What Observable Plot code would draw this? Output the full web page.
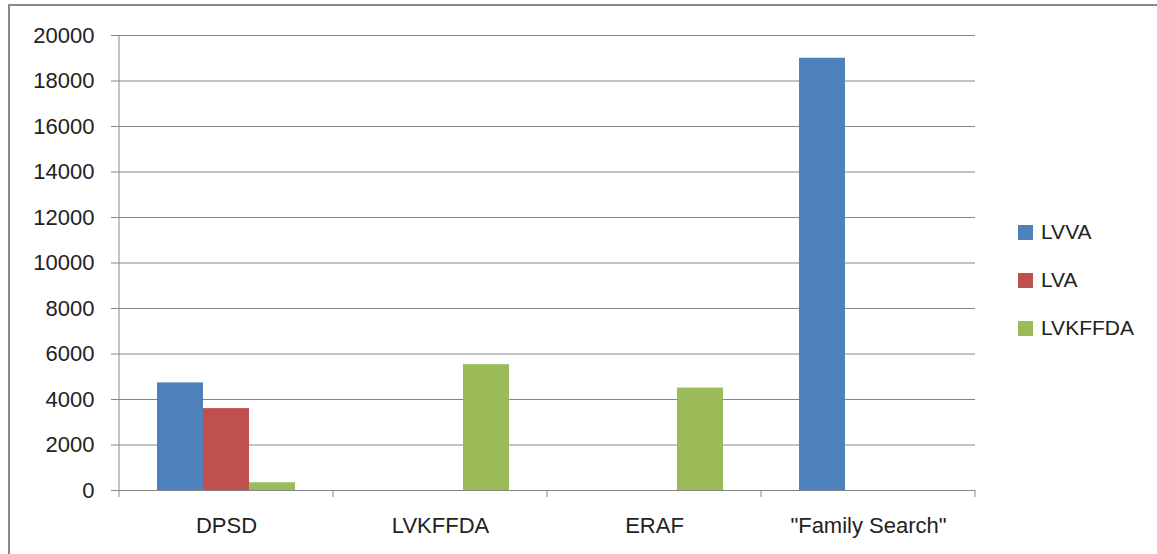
<!DOCTYPE html>
<html>
<head>
<meta charset="utf-8">
<script src="https://cdn.jsdelivr.net/npm/d3@7"></script>
<script src="https://cdn.jsdelivr.net/npm/@observablehq/plot@0.6"></script>
<style>
  html, body { margin: 0; padding: 0; background: #fff; overflow: hidden; }
  #wrap { position: relative; width: 1157px; height: 554px; overflow: hidden; }
  #border { position: absolute; left: 8px; top: 4px; width: 2000px; height: 2000px; border: 2px solid #8a8a8a; box-sizing: border-box; }
  #chart { position: absolute; left: 0; top: 0; }
  #legend { position: absolute; left: 1018px; top: 0; font-family: "Liberation Sans", Arial, sans-serif; font-size: 21px; color: #222; }
  .item { position: absolute; left: 0; white-space: nowrap; display: flex; align-items: center; height: 24px; }
  .sw { width: 15px; height: 15px; margin-right: 8px; }
</style>
</head>
<body>
<div id="wrap">
  <div id="border"></div>
  <div id="chart"></div>
  <div id="legend"></div>
</div>
<script>
const categories = ["DPSD", "LVKFFDA", "ERAF", "\"Family Search\""];
const seriesNames = ["LVVA", "LVA", "LVKFFDA"];
const seriesColors = ["#4F81BD", "#C0504D", "#9BBB59"];
const lvvaValues = [4730, 0, 0, 19000];
const lvaValues = [3600, 0, 0, 0];
const lvkffdaValues = [340, 5530, 4500, 0];
const yTicks = [0, 2000, 4000, 6000, 8000, 10000, 12000, 14000, 16000, 18000, 20000];

const seriesValues = [lvvaValues, lvaValues, lvkffdaValues];
const data = [];
categories.forEach((c, i) => {
  seriesNames.forEach((s, j) => {
    data.push({category: c, series: s, value: seriesValues[j][i]});
  });
});

const gray = "#868686";
const chart = Plot.plot({
  width: 1157,
  height: 554,
  marginLeft: 119,
  marginRight: 182,
  marginTop: 35,
  marginBottom: 64,
  style: {fontFamily: "'Liberation Sans', Arial, sans-serif", fontSize: "22px", color: "#222", background: "transparent", overflow: "visible"},
  fx: {domain: categories, padding: 0, label: null, axis: null},
  x: {domain: seriesNames, paddingInner: 0, paddingOuter: 0.777, axis: null},
  y: {domain: [0, 20000], label: null, axis: null},
  color: {domain: seriesNames, range: seriesColors},
  marks: [
    Plot.ruleY(yTicks, {stroke: gray, strokeWidth: 1}),
    Plot.barY(data, {fx: "category", x: "series", y: "value", fill: "series"}),
    Plot.axisY(yTicks, {anchor: "left", tickSize: 8, tickPadding: 17, tickFormat: d => String(d), stroke: gray, fill: "#222", label: null}),
    Plot.axisFx({anchor: "bottom", tickSize: 0, tickPadding: 27, label: null, fill: "#222"})
  ]
});
document.getElementById("chart").appendChild(chart);

// axis line and category boundary ticks, from the plot's own scales
const fx = chart.scale("fx");
const ys = chart.scale("y");
const y0 = ys.apply(0), yTop = ys.apply(20000);
const svg = d3.select(chart);
const g = svg.append("g").attr("stroke", gray).attr("stroke-width", 1);
const bounds = categories.map(c => fx.apply(c));
bounds.push(fx.apply(categories[categories.length - 1]) + fx.bandwidth);
bounds.forEach(x => {
  g.append("line").attr("x1", x).attr("x2", x).attr("y1", y0).attr("y2", y0 + 7);
});
g.append("line").attr("x1", bounds[0]).attr("x2", bounds[0]).attr("y1", yTop).attr("y2", y0);

// legend
const legend = document.getElementById("legend");
const legendTops = [220, 268, 316];
seriesNames.forEach((s, i) => {
  const item = document.createElement("div");
  item.className = "item";
  item.style.top = legendTops[i] + "px";
  const sw = document.createElement("div");
  sw.className = "sw";
  sw.style.background = seriesColors[i];
  const t = document.createElement("span");
  t.textContent = s;
  item.appendChild(sw);
  item.appendChild(t);
  legend.appendChild(item);
});
</script>
</body>
</html>
